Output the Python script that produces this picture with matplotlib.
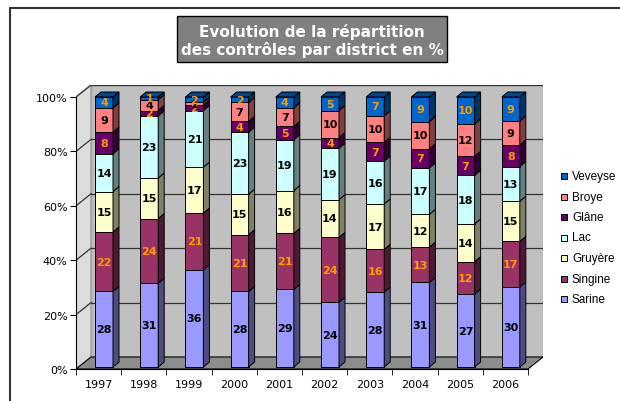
import numpy as np
import matplotlib.pyplot as plt
from matplotlib.patches import Polygon, Rectangle
from matplotlib.colors import to_rgb

# data (values shown on the bars, % per district)
years = ['1997', '1998', '1999', '2000', '2001', '2002', '2003', '2004', '2005', '2006']
districts = ['Sarine', 'Singine', 'Gruyère', 'Lac', 'Glâne', 'Broye', 'Veveyse']
sarine = [28, 31, 36, 28, 29, 24, 28, 31, 27, 30]
singine = [22, 24, 21, 21, 21, 24, 16, 13, 12, 17]
gruyere = [15, 15, 17, 15, 16, 14, 17, 12, 14, 15]
lac = [14, 23, 21, 23, 19, 19, 16, 17, 18, 13]
glane = [8, 2, 2, 4, 5, 4, 7, 7, 7, 8]
broye = [9, 4, 1, 7, 7, 10, 10, 10, 12, 9]
veveyse = [4, 1, 2, 2, 4, 5, 7, 9, 10, 9]

colors = ['#9999FF', '#993366', '#FFFFCC', '#CCFFFF', '#660066', '#FF8080', '#0066CC']
label_colors = ['black', '#FF9900', 'black', 'black', '#FF9900', 'black', '#FF9900']

series = np.array([sarine, singine, gruyere, lac, glane, broye, veveyse], dtype=float)
pct = series / series.sum(axis=0) * 100

# pseudo 3D geometry (pixels -> data units)
px_x, px_y = 45.2, 2.72
wall_dx, wall_dy = 15 / px_x, 12 / px_y
bar_w = 18 / px_x
bar_off = 5.4 / px_x
bar_base = 2 / px_y
side_dx, side_dy = 6 / px_x, 5 / px_y


def shade(c, f):
    r, g, b = to_rgb(c)
    return (r * f, g * f, b * f)


fig = plt.figure(figsize=(6.2, 4.02), dpi=100)
ax = fig.add_axes([76 / 620, 32 / 402, 467 / 620, 284 / 402])
ax.set_facecolor('none')
ax.set_xlim(-0.5, 9.5 + wall_dx)
ax.set_ylim(0, (370 - 86) / px_y)

# walls and floor
x0, x1 = -0.5, 9.5
ax.add_patch(Polygon([(x0 + wall_dx, wall_dy), (x1 + wall_dx, wall_dy),
                      (x1 + wall_dx, 100 + wall_dy), (x0 + wall_dx, 100 + wall_dy)],
                     closed=True, facecolor='#C0C0C0', edgecolor='#A0A0A0', lw=1, zorder=1))
ax.add_patch(Polygon([(x0, 0), (x0 + wall_dx, wall_dy), (x0 + wall_dx, 100 + wall_dy), (x0, 100)],
                     closed=True, facecolor='#DCDCDC', edgecolor='#A0A0A0', lw=1, zorder=1))
ax.add_patch(Polygon([(x0, 0), (x1, 0), (x1 + wall_dx, wall_dy), (x0 + wall_dx, wall_dy)],
                     closed=True, facecolor='#8C8C8C', edgecolor='black', lw=0.8, zorder=1.5))

for k in range(20, 101, 20):
    ax.plot([x0 + wall_dx, x1 + wall_dx], [k + wall_dy, k + wall_dy], color='#333333', lw=0.9, zorder=1.2)
    ax.plot([x0, x0 + wall_dx], [k, k + wall_dy], color='#333333', lw=0.9, zorder=1.2)

# stacked bars
for i in range(len(years)):
    xc = i + bar_off
    xl, xr = xc - bar_w / 2, xc + bar_w / 2
    bottom = bar_base
    for s in range(len(districts)):
        h = pct[s, i] * (100 - bar_base) / 100
        ax.bar(xc, h, bottom=bottom, width=bar_w, color=colors[s], edgecolor='black', lw=0.7, zorder=3)
        ax.add_patch(Polygon([(xr, bottom), (xr + side_dx, bottom + side_dy),
                              (xr + side_dx, bottom + h + side_dy), (xr, bottom + h)],
                             closed=True, facecolor=shade(colors[s], 0.5), edgecolor='black', lw=0.7, zorder=3))
        if s == len(districts) - 1:
            top = bottom + h
            ax.add_patch(Polygon([(xl, top), (xr, top), (xr + side_dx, top + side_dy), (xl + side_dx, top + side_dy)],
                                 closed=True, facecolor=shade(colors[s], 0.7), edgecolor='black', lw=0.7, zorder=3))
        ax.text(xc, bottom + h / 2, '%d' % series[s, i], ha='center', va='center',
                fontsize=8, fontweight='bold', color=label_colors[s], zorder=10)
        bottom += h

# axes
for sp in ['top', 'right']:
    ax.spines[sp].set_visible(False)
ax.spines['left'].set_bounds(0, 100)
ax.spines['bottom'].set_bounds(-0.5, 9.5)
ax.spines['left'].set_zorder(2)
ax.spines['bottom'].set_zorder(2)
ax.set_yticks(range(0, 101, 20), ['%d%%' % v for v in range(0, 101, 20)])
ax.set_xticks(range(len(years)), years)
ax.set_xticks(np.arange(-0.5, 10, 1), minor=True)
ax.tick_params(axis='x', which='major', length=0, pad=7, labelsize=8)
ax.tick_params(axis='x', which='minor', length=4, direction='out')
ax.tick_params(axis='y', length=4, pad=2, labelsize=8)

# title box
fig.add_artist(Rectangle((177 / 620, 1 - 63 / 402), 270 / 620, 46 / 402, transform=fig.transFigure,
                         facecolor='#808080', edgecolor='black', lw=1))
fig.text(312 / 620, 1 - 41 / 402, 'Evolution de la répartition\ndes contrôles par district en %',
         ha='center', va='center', color='white', fontsize=11, fontweight='bold', linespacing=1.15)

# chart border
fig.add_artist(Rectangle((10 / 620, -0.5), 2, 1.5 - 9 / 402, transform=fig.transFigure,
                         fill=False, edgecolor='#333333', lw=1.5))

# legend
for j, s in enumerate(reversed(range(len(districts)))):
    y = 177 + 20.5 * j
    fig.add_artist(Rectangle((561 / 620, 1 - (y + 3) / 402), 6 / 620, 6 / 402, transform=fig.transFigure,
                             facecolor=colors[s], edgecolor='black', lw=0.7))
    fig.text(572 / 620, 1 - y / 402, districts[s], ha='left', va='center', fontsize=8.5,
             family='Liberation Sans')

plt.savefig('out.png', dpi=100)
